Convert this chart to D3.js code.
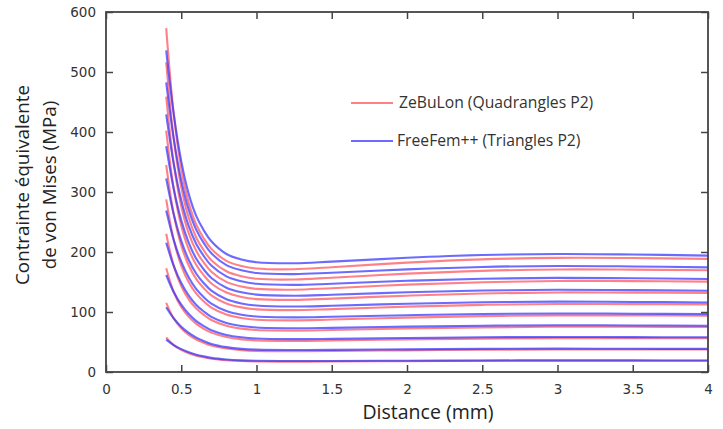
<!DOCTYPE html>
<html><head><meta charset="utf-8">
<script src="https://cdn.jsdelivr.net/npm/d3@7"></script>
<style>body{margin:0;background:#fff}svg{display:block}</style>
</head><body>
<svg id="c" width="723" height="429"></svg>
<script>
// Distance (mm) sample positions shared by all curves
const distances = [0.4, 0.45, 0.5, 0.55, 0.6, 0.65, 0.7, 0.8, 0.9, 1.0, 1.25, 1.5, 2.0, 2.5, 3.0, 3.5, 4.0];

// ZeBuLon (Quadrangles P2) curves, one per load level
const zebulon1  = [57.7, 44.8, 36.8, 31.3, 27.3, 24.5, 22.2, 19.7, 18.3, 17.6, 17.3, 17.5, 18.0, 18.5, 18.8, 18.7, 18.7];
const zebulon2  = [115.3, 89.3, 72.9, 61.8, 54.1, 48.6, 44.1, 39.1, 36.4, 35.1, 34.6, 35.0, 36.1, 37.1, 37.6, 37.5, 37.4];
const zebulon3  = [172.9, 133.3, 108.3, 91.8, 80.1, 72.0, 65.6, 58.2, 54.4, 52.6, 51.8, 52.4, 54.3, 55.7, 56.5, 56.4, 56.2];
const zebulon4  = [230.3, 176.9, 143.2, 121.0, 105.7, 95.1, 86.7, 77.1, 72.3, 69.9, 69.0, 69.9, 72.4, 74.3, 75.4, 75.3, 74.9];
const zebulon5  = [287.7, 220.1, 177.4, 149.5, 130.5, 117.5, 107.4, 95.8, 90.0, 87.1, 86.1, 87.4, 90.6, 93.1, 94.4, 94.3, 93.7];
const zebulon6  = [345.0, 262.9, 210.9, 177.4, 154.7, 139.6, 127.6, 114.2, 107.7, 104.4, 103.1, 104.8, 109.0, 111.9, 113.4, 113.2, 112.7];
const zebulon7  = [402.2, 305.3, 243.9, 204.4, 178.3, 161.1, 147.6, 132.4, 125.1, 121.5, 120.2, 122.3, 127.2, 130.8, 132.6, 132.3, 131.6];
const zebulon8  = [459.1, 347.3, 276.4, 230.9, 201.5, 182.1, 167.1, 150.2, 142.4, 138.5, 137.2, 139.7, 145.6, 149.7, 151.7, 151.5, 150.6];
const zebulon9  = [516.2, 388.9, 308.0, 256.6, 223.8, 202.6, 186.3, 167.9, 159.7, 155.4, 154.2, 157.2, 163.9, 168.6, 170.9, 170.6, 169.5];
const zebulon10 = [573.2, 430.1, 339.1, 281.7, 245.6, 222.6, 205.2, 185.3, 176.7, 172.4, 171.2, 174.7, 182.3, 187.7, 190.2, 189.9, 188.6];

// FreeFem++ (Triangles P2) curves
const freefem1  = [54.0, 44.8, 38.1, 32.9, 28.9, 26.0, 23.6, 20.9, 19.4, 18.7, 18.3, 18.4, 18.8, 19.2, 19.4, 19.3, 19.2];
const freefem2  = [107.9, 89.3, 75.5, 65.1, 57.2, 51.5, 46.8, 41.5, 38.6, 37.3, 36.6, 36.8, 37.7, 38.5, 38.9, 38.7, 38.5];
const freefem3  = [161.7, 133.3, 112.2, 96.6, 84.8, 76.4, 69.6, 61.8, 57.8, 55.8, 54.8, 55.2, 56.7, 57.8, 58.4, 58.1, 57.8];
const freefem4  = [215.4, 176.9, 148.4, 127.4, 111.8, 100.8, 92.0, 81.8, 76.7, 74.2, 73.0, 73.6, 75.6, 77.2, 78.0, 77.6, 77.1];
const freefem5  = [269.1, 220.1, 183.8, 157.4, 138.1, 124.6, 114.0, 101.7, 95.5, 92.5, 91.1, 92.0, 94.6, 96.7, 97.6, 97.2, 96.4];
const freefem6  = [322.7, 262.9, 218.6, 186.7, 163.7, 148.0, 135.5, 121.2, 114.3, 110.8, 109.1, 110.3, 113.8, 116.2, 117.3, 116.7, 115.9];
const freefem7  = [376.2, 305.3, 252.7, 215.2, 188.7, 170.8, 156.7, 140.5, 132.8, 129.0, 127.2, 128.7, 132.8, 135.8, 137.1, 136.4, 135.4];
const freefem8  = [429.5, 347.3, 286.4, 243.0, 213.2, 193.1, 177.4, 159.4, 151.2, 147.0, 145.2, 147.1, 152.0, 155.5, 156.9, 156.2, 154.9];
const freefem9  = [482.9, 388.9, 319.2, 270.1, 236.8, 214.8, 197.8, 178.2, 169.5, 165.0, 163.2, 165.5, 171.1, 175.1, 176.7, 175.9, 174.4];
const freefem10 = [536.2, 430.1, 351.4, 296.5, 259.9, 236.1, 217.8, 196.7, 187.6, 183.0, 181.2, 183.9, 190.3, 194.9, 196.7, 195.8, 194.0];

const xTicks = [0, 0.5, 1, 1.5, 2, 2.5, 3, 3.5, 4];
const yTicks = [0, 100, 200, 300, 400, 500, 600];
const seriesNames = ["ZeBuLon (Quadrangles P2)", "FreeFem++ (Triangles P2)"];

const zebulon = [zebulon1, zebulon2, zebulon3, zebulon4, zebulon5, zebulon6, zebulon7, zebulon8, zebulon9, zebulon10];
const freefem = [freefem1, freefem2, freefem3, freefem4, freefem5, freefem6, freefem7, freefem8, freefem9, freefem10];

const svg = d3.select("#c");
const L = 106, R = 708, T = 12, B = 372;
const x = d3.scaleLinear().domain([0, 4]).range([L, R]);
const y = d3.scaleLinear().domain([0, 600]).range([B, T]);

const red = "rgba(255,80,90,0.72)";
const blue = "rgba(50,50,255,0.72)";

const line = d3.line().x((d, i) => x(distances[i])).y(d => y(d)).curve(d3.curveCatmullRom.alpha(0.5));

const g = svg.append("g");
zebulon.forEach(s => g.append("path").attr("d", line(s)).attr("fill", "none").attr("stroke", red).attr("stroke-width", 2.1));
freefem.forEach(s => g.append("path").attr("d", line(s)).attr("fill", "none").attr("stroke", blue).attr("stroke-width", 2.1));

// frame
const axisCol = "#444";
svg.append("rect").attr("x", L).attr("y", T).attr("width", R - L).attr("height", B - T)
  .attr("fill", "none").attr("stroke", axisCol).attr("stroke-width", 1.8);

const tickLen = 7;
const fmt = d3.format("");
const xAxisB = d3.axisBottom(x).tickValues(xTicks).tickSize(-tickLen).tickPadding(12).tickFormat(fmt);
const xAxisT = d3.axisTop(x).tickValues(xTicks).tickSize(-tickLen).tickFormat("");
const yAxisL = d3.axisLeft(y).tickValues(yTicks).tickSize(-tickLen).tickPadding(10);
const yAxisR = d3.axisRight(y).tickValues(yTicks).tickSize(-tickLen).tickFormat("");

function style(sel) {
  sel.select(".domain").remove();
  sel.selectAll(".tick line").attr("stroke", axisCol).attr("stroke-width", 1.5);
  sel.selectAll(".tick text").attr("fill", "#333").style("font-family", "DejaVu Sans").style("font-size", "13.5px");
}
svg.append("g").attr("transform", `translate(0,${B})`).call(xAxisB).call(style);
svg.append("g").attr("transform", `translate(0,${T})`).call(xAxisT).call(style);
svg.append("g").attr("transform", `translate(${L},0)`).call(yAxisL).call(style);
svg.append("g").attr("transform", `translate(${R},0)`).call(yAxisR).call(style);

// titles
svg.append("text").attr("x", 428).attr("y", 419).attr("text-anchor", "middle")
  .style("font-family", "Open Sans").style("font-size", "19.5px").attr("fill", "#222").text("Distance (mm)");
const yt = svg.append("text").attr("transform", "translate(0,185) rotate(-90)").attr("text-anchor", "middle")
  .style("font-family", "Open Sans").style("font-size", "18.8px").attr("fill", "#222");
yt.append("tspan").attr("x", 0).attr("y", 29).text("Contrainte équivalente");
yt.append("tspan").attr("x", 0).attr("y", 56).text("de von Mises (MPa)");

// legend
const legColors = [red, blue];
const legY = [103, 141];
const legTx = [399, 397];
seriesNames.forEach((n, i) => {
  svg.append("line").attr("x1", 351).attr("x2", 393).attr("y1", legY[i]).attr("y2", legY[i])
    .attr("stroke", legColors[i]).attr("stroke-width", 2);
  svg.append("text").attr("x", legTx[i]).attr("y", legY[i]).attr("dy", "0.35em")
    .style("font-family", "Open Sans").style("font-size", "15.7px").attr("fill", "#333").text(n);
});
</script>
</body></html>
